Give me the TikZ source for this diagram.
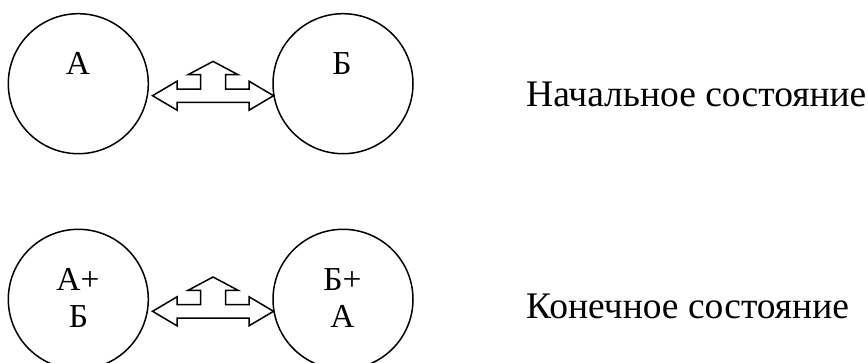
\documentclass[tikz,border=0pt]{standalone}
\usepackage{fontspec}
\setmainfont{Liberation Serif}
\usetikzlibrary{calc}
\begin{document}
\begin{tikzpicture}[x=1pt,y=-1pt,
  ball/.style={circle,draw,line width=1.5pt,minimum size=140pt,inner sep=0pt},
  intxt/.style={anchor=base,inner sep=0pt,font=\fontsize{33.5}{37}\selectfont},
  caption/.style={anchor=base west,inner sep=0pt,font=\fontsize{37.5}{44}\selectfont},
  exch/.pic={
    \draw[line width=1.5pt,line join=miter,fill=white]
      (-60.5,0) -- (-36,-14.5) -- (-36,-6.7) -- (-12.5,-6.7) -- (-12.5,-21)
      -- (-25,-21) -- (0,-34.3) -- (25,-21) -- (12.5,-21) -- (12.5,-6.7)
      -- (36,-6.7) -- (36,-14.5) -- (60.5,0) -- (36,14.5) -- (36,6.7)
      -- (-36,6.7) -- (-36,14.5) -- cycle;
  }]
\useasboundingbox (0,0) rectangle (868,362);

% initial state
\node[ball] (a1) at (78.3,83.7) {};
\node[ball] (b1) at (343,83.7) {};
\node[intxt] (ta1) at (78,74.5) {А};
\node[intxt] (tb1) at (342,74.5) {Б};
\pic (x1) at ($($(a1)!0.5!(b1)$)+(2.4,12)$) {exch};
\node[caption] (c1) at (526,106.7) {Начальное состояние};

% final state
\node[ball] (a2) at (78.3,299.3) {};
\node[ball] (b2) at (343,299.3) {};
\node[intxt] (ta2) at (78,290) {А+};
\node[intxt] (ta2b) at (78.5,327) {Б};
\node[intxt] (tb2) at (342.5,290) {Б+};
\node[intxt] (tb2b) at (342.5,327) {А};
\pic (x2) at ($($(a2)!0.5!(b2)$)+(2.4,12)$) {exch};
\node[caption] (c2) at (526,318.3) {Конечное состояние};
\end{tikzpicture}
\end{document}
